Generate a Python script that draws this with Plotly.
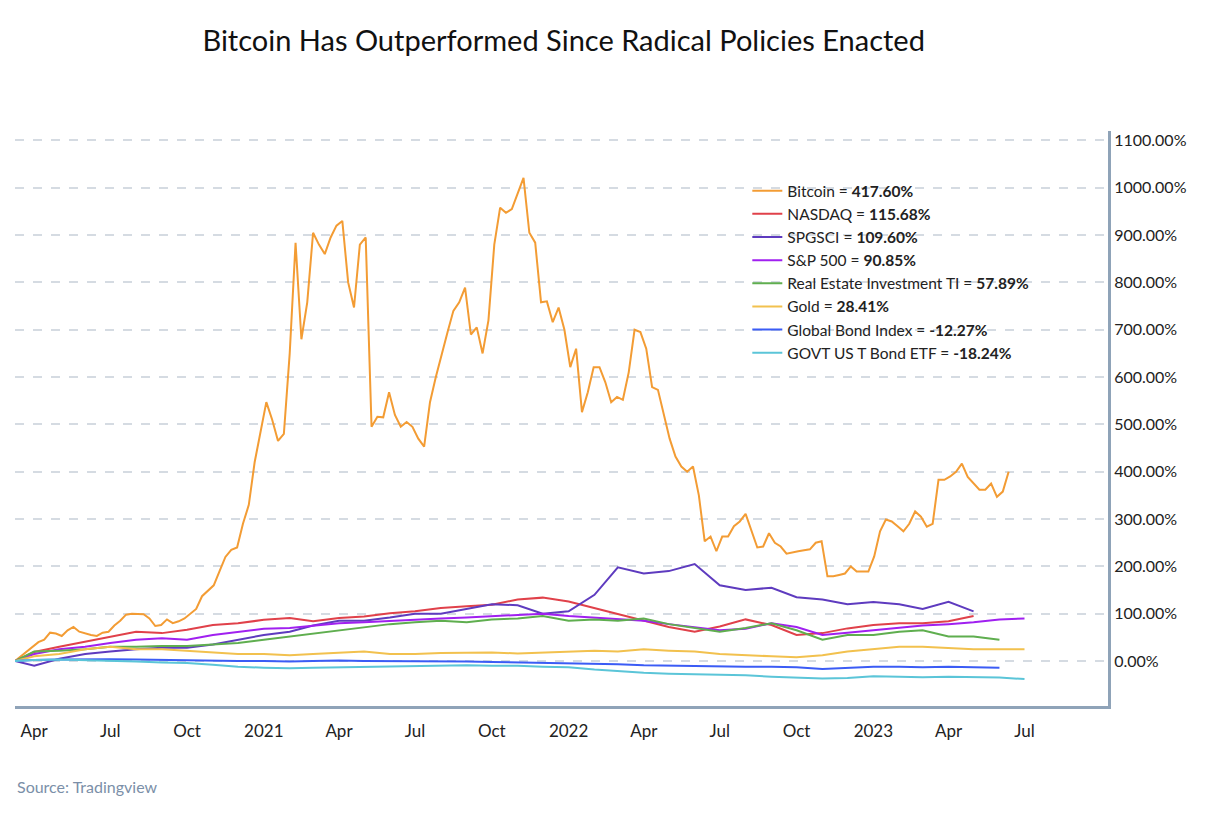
import pandas as pd
import numpy as np
import plotly.graph_objects as go

# weekly Bitcoin returns (%) since 2020-03-09
btc = [0, 10, 22, 30, 40, 45, 60, 58, 53, 65, 72, 62, 58, 55, 53, 60, 62, 75, 85, 98,
       100, 100, 99, 90, 74, 76, 88, 80, 84, 90, 100, 110, 137, 148, 160, 190, 220, 235, 240, 290,
       330, 420, 480, 547, 510, 465, 480, 650, 884, 680, 758, 905, 880, 860, 895, 920, 930, 800, 747, 880,
       895, 495, 516, 515, 568, 520, 495, 505, 495, 470, 453, 547, 600, 650, 695, 740, 758, 789, 690, 705,
       650, 720, 880, 958, 947, 955, 989, 1021, 905, 884, 758, 760, 716, 747, 700, 621, 660, 526, 568, 621,
       621, 589, 547, 558, 552, 610, 700, 695, 660, 579, 573, 520, 470, 432, 411, 400, 411, 350, 253, 263,
       232, 263, 263, 285, 295, 311, 274, 240, 242, 270, 250, 242, 227, 230, 232, 234, 236, 250, 253, 179,
       179, 182, 185, 200, 189, 189, 189, 221, 274, 299, 295, 285, 274, 290, 316, 305, 284, 290, 383, 383,
       390, 400, 417, 389, 375, 362, 362, 375, 347, 358, 400]
btc_dates = pd.date_range("2020-03-09", periods=len(btc), freq="7D")

# monthly readings for the other assets
months = [pd.Timestamp("2020-03-09")] + list(pd.date_range("2020-04-01", periods=40, freq="MS"))
others = {
    "NASDAQ = <b>115.68%</b>": ("#e0414a", [0, 19, 30, 41, 51, 62, 59, 66, 76, 80, 87, 91, 84, 91, 94, 101, 105, 112, 116, 119,
                                           130, 134, 126, 112, 100, 85, 72, 62, 73, 88, 76, 55, 59, 69, 76, 80, 80, 84, 95]),
    "SPGSCI = <b>109.60%</b>": ("#5e3bbf", [0, -10, 5, 15, 20, 25, 28, 28, 35, 45, 55, 62, 75, 85, 85, 92, 100, 100, 110, 120,
                                           118, 100, 105, 140, 198, 185, 190, 205, 160, 150, 155, 135, 130, 120, 125, 120, 110, 125, 105]),
    "S&P 500 = <b>90.85%</b>": ("#a020f0", [0, 15, 25, 30, 38, 45, 48, 45, 55, 62, 68, 70, 75, 80, 82, 85, 88, 90, 92, 95,
                                           98, 100, 95, 92, 88, 85, 78, 72, 65, 68, 80, 72, 55, 60, 65, 70, 75, 78, 82, 88, 90]),
    "Real Estate Investment TI = <b>57.89%</b>": ("#5fae4f", [0, 20, 22, 25, 30, 30, 32, 32, 35, 38, 45, 52, 58, 65, 72, 78, 82, 85, 82, 88,
                                                             90, 95, 85, 88, 85, 90, 78, 70, 62, 70, 80, 65, 45, 55, 55, 62, 65, 52, 52, 45]),
    "Gold = <b>28.41%</b>": ("#f2c14e", [0, 10, 15, 25, 30, 25, 25, 22, 18, 15, 15, 12, 15, 18, 20, 15, 15, 17, 17, 18,
                                        16, 18, 20, 22, 20, 25, 22, 20, 15, 12, 10, 8, 12, 20, 25, 30, 30, 28, 25, 25, 25]),
    "Global Bond Index = <b>-12.27%</b>": ("#3b5cf5", [0, 2, 3, 4, 4, 3, 2, 1, 0, 0, 0, -1, 0, 1, 0, 0, 0, 0, -1, -2,
                                                      -3, -4, -4, -5, -7, -9, -10, -11, -12, -12, -12, -13, -17, -15, -12, -12, -13, -12, -13, -14]),
    "GOVT US T Bond ETF = <b>-18.24%</b>": ("#5bc5d8", [0, 2, 3, 2, 0, -1, -3, -4, -8, -12, -14, -15, -14, -13, -12, -12, -11, -10, -9, -10,
                                                       -10, -12, -13, -18, -22, -25, -27, -28, -28, -30, -33, -35, -37, -36, -32, -33, -34, -33, -34, -35, -38]),
}

fig = go.Figure()
fig.add_trace(go.Scatter(x=btc_dates, y=btc, mode="lines", name="Bitcoin = <b>417.60%</b>",
                         line=dict(color="#f39c34", width=2)))
for name, (color, vals) in others.items():
    fig.add_trace(go.Scatter(x=months[:len(vals)], y=vals, mode="lines", name=name,
                             line=dict(color=color, width=2)))

quarters = pd.date_range("2020-04-01", "2023-07-01", freq="QS")

fig.update_layout(
    width=1208, height=823, plot_bgcolor="white", paper_bgcolor="white",
    font=dict(family="Lato", color="#222", size=14),
    title=dict(text="Bitcoin Has Outperformed Since Radical Policies Enacted",
               x=0.46, xanchor="center", y=0.96, yanchor="middle", font=dict(size=29, color="#111")),
    margin=dict(l=7, r=108, t=123, b=125),
    legend=dict(x=0.67, y=0.925, xanchor="left", yanchor="top", bgcolor="rgba(0,0,0,0)",
                font=dict(size=15.5)),
    xaxis=dict(range=["2020-03-09", "2023-10-09"], showgrid=False,
               tickvals=list(quarters),
               ticktext=[str(d.year) if d.month == 1 else d.strftime("%b") for d in quarters],
               tickfont=dict(size=17), ticklabelstandoff=8,
               showline=True, linecolor="#8fa3b8", linewidth=3, ticks=""),
    yaxis=dict(side="right", range=[-95, 1120], dtick=100, ticksuffix="%", tickformat=".2f",
               gridcolor="#d5dbe2", griddash="dash", gridwidth=1.5, zeroline=False,
               showline=True, linecolor="#8fa3b8", linewidth=3, tickfont=dict(size=16)),
    annotations=[dict(text="Source: Tradingview", x=-0.0, y=-0.16, xref="paper", yref="paper",
                      xanchor="left", showarrow=False, font=dict(size=16, color="#7b8fa8"))],
)
fig.write_html("out.html")
